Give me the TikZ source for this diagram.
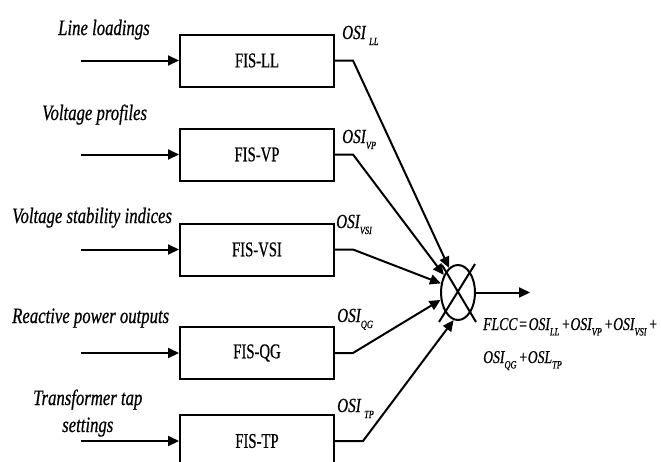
\documentclass[tikz,border=0pt]{standalone}
\usepackage{fontspec}
\setmainfont{Liberation Serif}
\newfontfamily\itf[FakeStretch=0.76,FakeBold=0.6]{Liberation Serif}
\newfontfamily\upf[FakeStretch=0.70,FakeBold=0.6]{Liberation Serif}
\usetikzlibrary{arrows.meta,shapes.geometric}
\newcommand{\subsz}{\fontsize{11}{11}\selectfont}
\newcommand{\osisub}[1]{OSI\raisebox{-0.3em}{\subsz #1}}
\tikzset{
  fisbox/.style={draw, line width=2pt, minimum width=154pt, minimum height=52pt, inner sep=0pt, font=\upf\fontsize{21}{21}\selectfont},
  inlabel/.style={anchor=base west, inner sep=0pt, font=\itf\itshape\fontsize{22}{22}\selectfont},
  osilabel/.style={anchor=base west, inner sep=0pt, font=\itf\itshape\fontsize{20}{20}\selectfont},
  formula/.style={anchor=base west, inner sep=0pt, font=\itf\itshape\fontsize{18}{18}\selectfont},
  conn/.style={line width=2pt, -{Triangle[length=11pt,width=10pt]}},
  plain/.style={line width=2pt},
}
\begin{document}
\begin{tikzpicture}[x=1pt,y=-1pt]
\useasboundingbox (0,0) rectangle (661,461);
% boxes
\node[fisbox] (LL) at (257,60.5) {FIS-LL};
\node[fisbox] (VP) at (257,154.5) {FIS-VP};
\node[fisbox] (VSI) at (257,249.5) {FIS-VSI};
\node[fisbox] (QG) at (257,353) {FIS-QG};
\node[fisbox] (TP) at (257,441) {FIS-TP};
% summing junction
\node[draw, ellipse, line width=2pt, minimum width=34pt, minimum height=55pt, inner sep=0pt] (sum) at (458,292.5) {};
\draw[plain] (442,265) -- (476,322);
\draw[plain] (475,264) -- (439,322);
% input starts
\coordinate (iLL) at (81,60.5);
\coordinate (iVP) at (81,154.5);
\coordinate (iVSI) at (81,249.5);
\coordinate (iQG) at (81,353);
\coordinate (iTP) at (81,441);
\draw[conn] (iLL) -- (LL.west);
\draw[conn] (iVP) -- (VP.west);
\draw[conn] (iVSI) -- (VSI.west);
\draw[conn] (iQG) -- (QG.west);
\draw[conn] (iTP) -- (TP.west);
% kinks
\coordinate (kLL) at (353,60.5);
\coordinate (kVP) at (353,154.5);
\coordinate (kVSI) at (353,249.5);
\coordinate (kQG) at (353,353);
\coordinate (kTP) at (363,441);
\draw[conn] (LL.east) -- (kLL) -- (sum.110);
\draw[conn] (VP.east) -- (kVP) -- (sum.129);
\draw[conn] (VSI.east) -- (kVSI) -- (sum.152);
\draw[conn] (QG.east) -- (kQG) -- (sum.203);
\draw[conn] (TP.east) -- (kTP) -- (sum.261);
% output
\coordinate (out) at (530,292.5);
\draw[conn] (sum.east) -- (out);
% input labels
\node[inlabel] (tLL) at (58,35) {Line loadings};
\node[inlabel] (tVP) at (42,120) {Voltage profiles};
\node[inlabel] (tVSI) at (12,223) {Voltage stability indices};
\node[inlabel] (tQG) at (12,323) {Reactive power outputs};
\node[inlabel] (tTP1) at (33,405) {Transformer tap};
\node[inlabel] (tTP2) at (62,432) {settings};
% OSI labels
\node[osilabel] (oLL) at (342,39) {OSI\,\raisebox{-0.3em}{\subsz LL}};
\node[osilabel] (oVP) at (342,143) {\osisub{VP}};
\node[osilabel] (oVSI) at (336,228) {\osisub{VSI}};
\node[osilabel] (oQG) at (337,322) {\osisub{QG}};
\node[osilabel] (oTP) at (337,412) {OSI\,\raisebox{-0.3em}{\subsz TP}};
% formula
\node[formula] (f1) at (483,330) {FLCC\hspace{1pt}=\hspace{1pt}\osisub{LL}\hspace{2pt}+\osisub{VP}\hspace{2pt}+\osisub{VSI}\hspace{2pt}+};
\node[formula] (f2) at (483,363) {\osisub{QG}\hspace{2pt}+OSL\raisebox{-0.3em}{\subsz TP}};
\end{tikzpicture}
\end{document}
